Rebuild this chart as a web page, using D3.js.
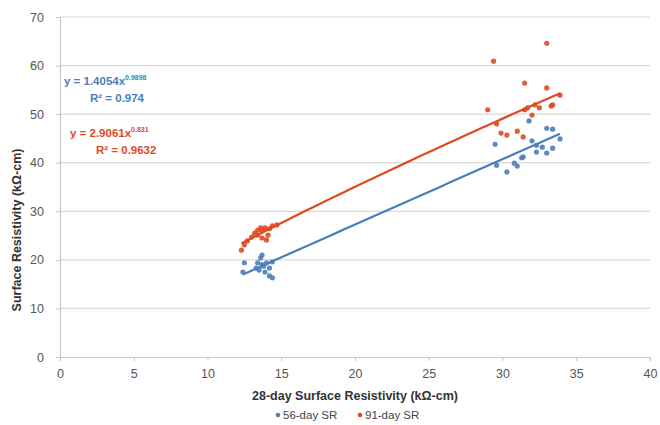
<!DOCTYPE html>
<html>
<head>
<meta charset="utf-8">
<script src="https://cdn.jsdelivr.net/npm/d3@7"></script>
<style>
  body { margin: 0; background: #fff; }
  text { font-family: "Liberation Sans", Arial, sans-serif; }
</style>
</head>
<body>
<div id="chart"></div>
<script>
// 28-day SR vs 56-day SR
var sr56x = [29.5, 32.0, 31.8, 33.0, 33.4, 33.9, 32.3, 33.0, 33.4, 29.6, 30.3, 30.8, 31.0, 31.3, 31.4, 32.3, 32.7,
             12.4, 12.5, 13.4, 13.6, 13.7, 13.8, 14.0, 14.2, 14.4, 13.9, 14.2, 14.4, 13.5, 13.3, 13.7];
var sr56y = [43.8, 44.5, 48.6, 47.1, 46.9, 44.9, 42.2, 42.0, 43.0, 39.5, 38.1, 39.9, 39.3, 41.0, 41.2, 43.6, 43.2,
             17.5, 19.4, 19.4, 20.4, 19.0, 18.7, 19.4, 18.3, 19.6, 17.5, 16.7, 16.3, 17.9, 18.3, 21.0];
// 28-day SR vs 91-day SR
var sr91x = [29.4, 33.0, 31.5, 33.0, 33.9, 33.3, 29.0, 29.6, 29.9, 30.3, 31.0, 31.4, 31.5, 31.7, 32.0, 32.2, 32.5, 33.4,
             12.3, 12.5, 12.7, 13.0, 13.2, 13.4, 13.7, 13.9, 14.2, 14.1, 14.4, 14.7, 13.4, 13.7, 14.0, 13.6];
var sr91y = [60.9, 64.6, 56.4, 55.4, 53.9, 51.7, 50.9, 48.0, 46.1, 45.7, 46.5, 45.3, 50.9, 51.3, 49.8, 51.9, 51.3, 51.9,
             22.0, 23.1, 23.9, 24.7, 25.5, 26.1, 26.0, 26.6, 26.4, 25.1, 27.0, 27.2, 25.1, 24.5, 24.1, 26.6];

var seriesNames = ["56-day SR", "91-day SR"];
var fitA = [1.4054, 2.9061];
var fitB = [0.9898, 0.831];
var fitLabels = [["y = 1.4054x", "0.9898", "R² = 0.974"], ["y = 2.9061x", "0.831", "R² = 0.9632"]];
var xTicks = [0, 5, 10, 15, 20, 25, 30, 35, 40];
var yTicks = [0, 10, 20, 30, 40, 50, 60, 70];

var colors = ["#4a7ebb", "#e0491f"];

var W = 660, H = 425;
var margin = {top: 17, right: 10, bottom: 68, left: 60};

var svg = d3.select("#chart").append("svg")
    .attr("width", W)
    .attr("height", H);

var x = d3.scaleLinear().domain([0, 40]).range([margin.left, 650]);
var y = d3.scaleLinear().domain([0, 70]).range([357, margin.top]);

// gridlines
svg.append("g")
    .selectAll("line")
    .data(yTicks.slice(1))
    .enter().append("line")
    .attr("x1", x(0)).attr("x2", x(40))
    .attr("y1", function(d){ return y(d); })
    .attr("y2", function(d){ return y(d); })
    .style("stroke", "#d9d9d9")
    .style("stroke-width", 1.2);

// axes
var xAxis = svg.append("g")
    .attr("transform", "translate(0," + y(0) + ")")
    .call(d3.axisBottom(x).tickValues(xTicks).tickSize(4).tickPadding(8));
var yAxis = svg.append("g")
    .attr("transform", "translate(" + x(0) + ",0)")
    .call(d3.axisLeft(y).tickValues(yTicks).tickSize(4).tickPadding(12));

[xAxis, yAxis].forEach(function(g){
    g.select(".domain").style("stroke", "#c8c8c8").style("stroke-width", 1.2);
    g.selectAll(".tick line").style("stroke", "#c8c8c8");
    g.selectAll(".tick text")
        .style("font-size", "12.5px")
        .style("fill", "#555");
});

// axis titles
svg.append("text")
    .attr("x", 355).attr("y", 400)
    .attr("text-anchor", "middle")
    .style("font-size", "12.5px")
    .style("font-weight", "bold")
    .style("fill", "#333")
    .text("28-day Surface Resistivity (kΩ-cm)");

svg.append("text")
    .attr("transform", "translate(21,230) rotate(-90)")
    .attr("text-anchor", "middle")
    .style("font-size", "12.5px")
    .style("font-weight", "bold")
    .style("fill", "#333")
    .text("Surface Resistivity (kΩ-cm)");

// trendlines + points
var xs = [sr56x, sr91x], ys = [sr56y, sr91y];
xs.forEach(function(sx, s){
    var lo = d3.min(sx), hi = d3.max(sx);
    var pts = d3.range(0, 41).map(function(i){
        var v = lo + (hi - lo) * i / 40;
        return [v, fitA[s] * Math.pow(v, fitB[s])];
    });
    svg.append("path")
        .datum(pts)
        .attr("d", d3.line()
            .x(function(d){ return x(d[0]); })
            .y(function(d){ return y(d[1]); }))
        .style("fill", "none")
        .style("stroke", colors[s])
        .style("stroke-width", 2.2);

    svg.append("g")
        .selectAll("circle")
        .data(sx)
        .enter().append("circle")
        .attr("cx", function(d){ return x(d); })
        .attr("cy", function(d, i){ return y(ys[s][i]); })
        .attr("r", 2.6)
        .style("fill", colors[s])
        .style("opacity", 0.9);
});

// equation labels
var eqPos = [[64, 85], [70, 137]];
fitLabels.forEach(function(lab, s){
    var t = svg.append("text")
        .attr("x", eqPos[s][0]).attr("y", eqPos[s][1])
        .style("font-size", "11.5px")
        .style("font-weight", "bold")
        .style("fill", colors[s]);
    t.append("tspan").text(lab[0]);
    t.append("tspan").attr("dy", -5).style("font-size", "7px").text(lab[1]);
    svg.append("text")
        .attr("x", eqPos[s][0] + 26).attr("y", eqPos[s][1] + 17)
        .style("font-size", "11.5px")
        .style("font-weight", "bold")
        .style("fill", colors[s])
        .text(lab[2]);
});

// legend
var legX = [278, 360];
seriesNames.forEach(function(name, s){
    svg.append("circle")
        .attr("cx", legX[s]).attr("cy", 415)
        .attr("r", 2.3)
        .style("fill", colors[s]);
    svg.append("text")
        .attr("x", legX[s] + 5).attr("y", 419)
        .style("font-size", "11.5px")
        .style("fill", "#444")
        .text(name);
});
</script>
</body>
</html>
